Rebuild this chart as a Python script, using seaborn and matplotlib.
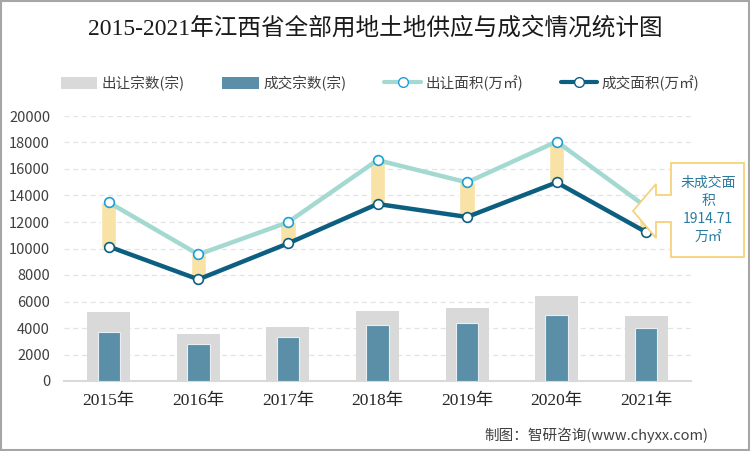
import numpy as np
import pandas as pd
import matplotlib
matplotlib.use("Agg")
import matplotlib.pyplot as plt
import seaborn as sns
from matplotlib.patches import Patch, Polygon, Rectangle
from matplotlib.lines import Line2D

# Data
years = ["2015年", "2016年", "2017年", "2018年", "2019年", "2020年", "2021年"]
supply_count = [5190, 3580, 4040, 5260, 5540, 6440, 4940]
deal_count = [3710, 2760, 3310, 4240, 4360, 5010, 4010]
supply_area = [13480, 9550, 11980, 16670, 14990, 18070, 13140]
deal_area = [10150, 7670, 10380, 13360, 12380, 14990, 11230]
unsold_label = "未成交面\n积\n1914.71\n万㎡"

df = pd.DataFrame({
    "year": years,
    "supply_count": supply_count,
    "deal_count": deal_count,
    "supply_area": supply_area,
    "deal_area": deal_area,
})
pos = np.arange(len(years))

sns.set_theme(style="white")
plt.rcParams["font.family"] = ["Noto Sans CJK SC", "DejaVu Sans"]
serif = ["Liberation Serif", "Noto Sans CJK SC"]

c_sup_bar = "#d9d9d9"
c_deal_bar = "#5b8fa8"
c_sup_line = "#a3d9d1"
c_sup_mk = "#1b9fd8"
c_deal_line = "#0c5f80"
c_gap = "#f8e2a6"
c_text = "#404040"

fig = plt.figure(figsize=(7.5, 4.51), dpi=100)
ax = fig.add_axes([64 / 750, 1 - 381 / 451, 627 / 750, 265 / 451])

# bars
sns.barplot(data=df, x="year", y="supply_count", color=c_sup_bar, width=0.48,
            saturation=1, linewidth=0, ax=ax, zorder=2)
sns.barplot(data=df, x="year", y="deal_count", color=c_deal_bar, width=0.25,
            saturation=1, linewidth=0.8, edgecolor="#e8eef2", ax=ax, zorder=3)

# gap between supply and deal area
gap = df["supply_area"] - df["deal_area"]
ax.bar(pos, gap, bottom=df["deal_area"], width=0.17, color=c_gap, zorder=4)

# lines
sns.lineplot(x=pos, y=df["supply_area"], color=c_sup_line, linewidth=3.2,
             ax=ax, zorder=5, sort=False)
sns.lineplot(x=pos, y=df["deal_area"], color=c_deal_line, linewidth=3.2,
             ax=ax, zorder=5, sort=False)
ax.plot(pos, df["supply_area"], linestyle="none", marker="o", markersize=7,
        markerfacecolor="white", markeredgecolor=c_sup_mk, markeredgewidth=1.2, zorder=6)
ax.plot(pos, df["deal_area"], linestyle="none", marker="o", markersize=7,
        markerfacecolor="white", markeredgecolor=c_deal_line, markeredgewidth=1.2, zorder=6)

ax.set_xlim(-0.5, len(years) - 0.5)
ax.set_ylim(0, 20000)
ax.set_yticks(range(0, 20001, 2000))
ax.set_xlabel("")
ax.set_ylabel("")
ax.grid(axis="y", color="#e3e3e3", linestyle=(0, (4, 3)), linewidth=0.9, zorder=0)
ax.set_axisbelow(True)
for s in ["left", "right", "top"]:
    ax.spines[s].set_visible(False)
ax.spines["bottom"].set_color("#d9d9d9")
ax.spines["bottom"].set_linewidth(1.5)
ax.tick_params(axis="both", length=0)
ax.tick_params(axis="y", pad=10, labelsize=10.5, labelcolor=c_text)
ax.tick_params(axis="x", pad=9)
ax.set_xticks(pos)
ax.set_xticklabels(years, family=serif, fontsize=12.5, color="#262626")

# title, legend, source
fig.text(0.5, 1 - 28 / 451, "2015-2021年江西省全部用地土地供应与成交情况统计图",
         ha="center", va="center", fontsize=17, family=serif, color="#1a1a1a")

handles = [
    Patch(facecolor=c_sup_bar, edgecolor="none"),
    Patch(facecolor=c_deal_bar, edgecolor="none"),
    Line2D([], [], color=c_sup_line, linewidth=3, marker="o", markersize=7,
           markerfacecolor="white", markeredgecolor=c_sup_mk),
    Line2D([], [], color=c_deal_line, linewidth=3, marker="o", markersize=7,
           markerfacecolor="white", markeredgecolor=c_deal_line),
]
labels = ["出让宗数(宗)", "成交宗数(宗)", "出让面积(万㎡)", "成交面积(万㎡)"]
fig.legend(handles, labels, loc="center", bbox_to_anchor=(380 / 750, 1 - 83 / 451),
           ncol=4, frameon=False, fontsize=10.5, handlelength=2.5, handleheight=0.9,
           handletextpad=0.3, columnspacing=2.6, labelcolor=c_text)

fig.text(596 / 750, 1 - 435 / 451, "制图：智研咨询(www.chyxx.com)", ha="center",
         va="center", fontsize=10.5, color=c_text)

# callout for unsold area
H = 451
pts = [(671, 163), (744, 163), (744, 257), (671, 257), (671, 222), (656, 222),
       (656, 238), (633, 211), (656, 184), (656, 195), (671, 195)]
callout = Polygon([(x / 750, 1 - y / H) for x, y in pts], closed=True,
                  transform=fig.transFigure, facecolor="white", edgecolor="#f7d27c",
                  linewidth=1.3, zorder=10)
fig.patches.append(callout)
fig.text(708 / 750, 1 - 210 / H, unsold_label, ha="center", va="center",
         fontsize=10, color="#2a7ba0", linespacing=1.35, zorder=11)

# outer border
fig.patches.append(Rectangle((0.001, 0.002), 0.997, 0.996, transform=fig.transFigure,
                             fill=False, edgecolor="#a6a6a6", linewidth=1.5, zorder=20))

fig.savefig("out.png", dpi=100)
